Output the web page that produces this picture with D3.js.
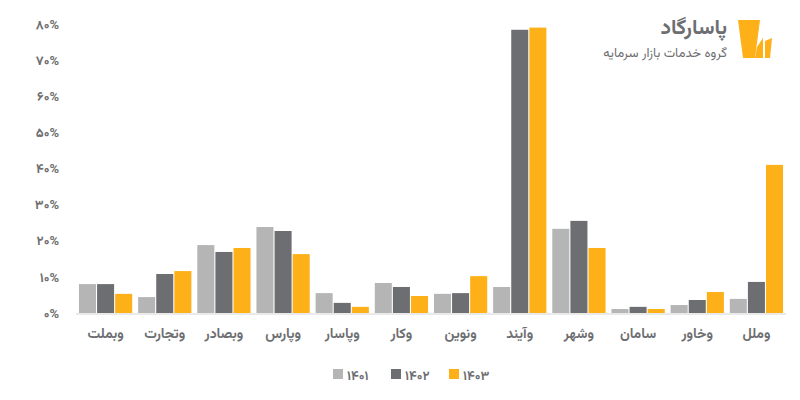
<!DOCTYPE html>
<html><head><meta charset="utf-8">
<script src="https://cdn.jsdelivr.net/npm/d3@7"></script>
<style>body{margin:0;background:#fff}</style></head>
<body><svg id="c" width="800" height="400"></svg>
<script>
const categories=["وبملت","وتجارت","وبصادر","وپارس","وپاسار","وکار","ونوین","وآیند","وشهر","سامان","وخاور","وملل"];
const seriesNames=["۱۴۰۱","۱۴۰۲","۱۴۰۳"];
const s1401=[8.0,4.4,18.8,23.8,5.5,8.3,5.3,7.2,23.3,1.1,2.2,3.9];
const s1402=[8.0,10.8,16.9,22.7,2.8,7.2,5.5,78.4,25.5,1.7,3.6,8.6];
const s1403=[5.3,11.6,18.0,16.3,1.7,4.7,10.2,79.0,18.0,1.1,5.8,41.0];
const yTicks=[0,10,20,30,40,50,60,70,80];
const colors=["#b5b5b5","#6d6e71","#fdb017"];
const series=[s1401,s1402,s1403];
const fa=n=>String(n).replace(/\d/g,d=>"۰۱۲۳۴۵۶۷۸۹"[d]);
const svg=d3.select("#c");
const x=d3.scaleBand().domain(categories).range([76,786]).paddingInner(0.1).paddingOuter(0.05);
const xi=d3.scaleBand().domain([0,1,2]).range([0,x.bandwidth()]).paddingInner(0.06);
const y=d3.scaleLinear().domain([0,80]).range([313,24]);
const font="Vazirmatn, 'Noto Sans', 'DejaVu Sans', sans-serif";
svg.append("line").attr("x1",76).attr("x2",786).attr("y1",y(0)+1).attr("y2",y(0)+1).attr("stroke","#e3e3e3").attr("stroke-width",1.5);
const g=svg.append("g");
categories.forEach((c,i)=>{series.forEach((s,k)=>{
 g.append("rect").attr("x",x(c)+xi(k)).attr("width",xi.bandwidth()).attr("y",y(s[i])).attr("height",y(0)-y(s[i])).attr("fill",colors[k]);
});});
const ya=svg.append("g").attr("transform","translate(62,0)").call(d3.axisLeft(y).tickValues(yTicks).tickSize(0).tickFormat(d=>fa(d)+"%"));
ya.select(".domain").remove();
ya.selectAll("text").attr("fill","#6d6e71").attr("font-size",13).attr("font-weight","bold").attr("font-family",font);
const xa=svg.append("g").attr("transform","translate(0,322)").call(d3.axisBottom(x).tickSize(0));
xa.select(".domain").remove();
xa.selectAll("text").attr("fill","#6d6e71").attr("font-size",14).attr("font-weight","bold").attr("font-family",font).attr("dy","0.9em");
const leg=svg.append("g").attr("transform","translate(333,375)");
seriesNames.forEach((n,k)=>{
 const lg=leg.append("g").attr("transform",`translate(${k*58},0)`);
 lg.append("rect").attr("width",10).attr("height",10).attr("y",-6).attr("fill",colors[k]);
 lg.append("text").attr("x",14).attr("dy","0.35em").text(n).attr("fill","#6d6e71").attr("font-size",13).attr("font-weight","bold").attr("font-family",font);
});
// logo
const lo=svg.append("g");
lo.append("path").attr("d","M738,20 L760,20 L755,58 L743,58 Z").attr("fill","#fdb017");
lo.append("path").attr("d","M757,47 L763,38 L763,58 L755,58 Z").attr("fill","#fdb017");
lo.append("path").attr("d","M765,41 L772,38 L770,58 L765,58 Z").attr("fill","#fdb017");
lo.append("text").attr("x",727).attr("y",34).attr("text-anchor","end").text("پاسارگاد").attr("fill","#6d6e71").attr("font-size",21).attr("font-weight","bold").attr("font-family",font);
lo.append("text").attr("x",727).attr("y",57).attr("text-anchor","end").text("گروه خدمات بازار سرمایه").attr("fill","#6d6e71").attr("font-size",13).attr("font-family",font);
</script></body></html>
